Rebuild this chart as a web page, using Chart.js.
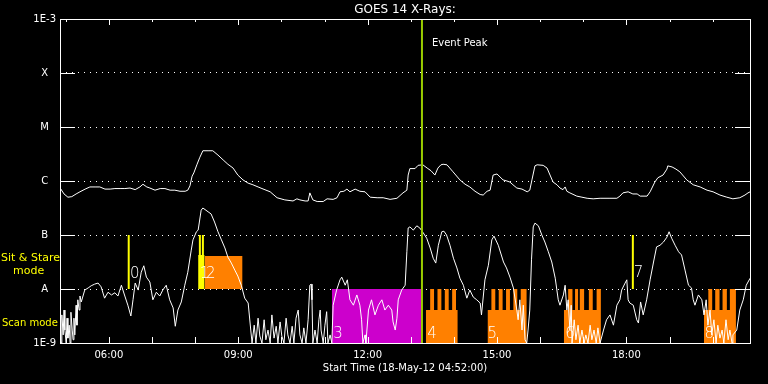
<!DOCTYPE html>
<html>
<head>
<meta charset="utf-8">
<title>GOES 14 X-Rays</title>
<script src="https://cdn.jsdelivr.net/npm/chart.js@4.4.1/dist/chart.umd.min.js"></script>
<style>
    html, body { margin: 0; padding: 0; background: #000; overflow: hidden; }
    canvas { display: block; background: #000; }
</style>
</head>
<body>
<canvas id="goesChart" width="768" height="384"></canvas>
<script>
// time is in decimal hours of 18-May-12 (UT), flux stored as log10(W/m^2)
const startHour = 4 + 52 / 60;
const endHour = startHour + 16;

const labelHours = [6, 9, 12, 15, 18];
const minorHours = [5, 6, 7, 8, 9, 10, 11, 12, 13, 14, 15, 16, 17, 18, 19, 20];

const classValues = [1e-9, 1e-8, 1e-7, 1e-6, 1e-5, 1e-4, 1e-3];
const classLabels = ['1E-9', 'A', 'B', 'C', 'M', 'X', '1E-3'];

// 1-8 A channel
const longChannel = [
    [4.87, -6.13], [4.96, -6.24], [5.05, -6.30], [5.14, -6.29], [5.24, -6.24], [5.33, -6.20],
    [5.45, -6.15], [5.56, -6.11], [5.68, -6.11], [5.79, -6.11], [5.91, -6.15], [6.03, -6.15],
    [6.14, -6.14], [6.26, -6.14], [6.37, -6.14], [6.49, -6.13], [6.61, -6.16], [6.72, -6.11],
    [6.79, -6.06], [6.88, -6.11], [6.95, -6.13], [7.07, -6.17], [7.19, -6.14], [7.30, -6.14],
    [7.42, -6.17], [7.53, -6.17], [7.65, -6.19], [7.77, -6.19], [7.83, -6.17], [7.88, -6.09],
    [7.93, -5.91], [7.97, -5.85], [8.04, -5.70], [8.11, -5.56], [8.18, -5.44], [8.30, -5.44],
    [8.41, -5.44], [8.53, -5.52], [8.65, -5.61], [8.76, -5.69], [8.88, -5.76], [8.99, -5.89],
    [9.11, -5.98], [9.23, -6.04], [9.34, -6.07], [9.46, -6.11], [9.55, -6.14], [9.74, -6.20],
    [9.90, -6.31], [10.08, -6.35], [10.27, -6.37], [10.36, -6.33], [10.43, -6.35], [10.55, -6.37],
    [10.62, -6.37], [10.66, -6.22], [10.73, -6.35], [10.83, -6.38], [10.97, -6.38], [11.06, -6.33],
    [11.20, -6.34], [11.29, -6.31], [11.36, -6.20], [11.45, -6.19], [11.52, -6.15], [11.59, -6.20],
    [11.71, -6.15], [11.82, -6.19], [11.94, -6.20], [12.06, -6.30], [12.22, -6.31], [12.36, -6.31],
    [12.52, -6.34], [12.68, -6.32], [12.82, -6.22], [12.91, -6.17], [12.94, -5.89], [12.98, -5.77],
    [13.10, -5.77], [13.17, -5.71], [13.28, -5.70], [13.38, -5.76], [13.47, -5.81], [13.56, -5.89],
    [13.63, -5.76], [13.70, -5.70], [13.75, -5.69], [13.84, -5.70], [13.98, -5.83], [14.14, -5.98],
    [14.26, -6.06], [14.37, -6.11], [14.49, -6.19], [14.61, -6.25], [14.68, -6.26], [14.77, -6.19],
    [14.84, -6.17], [14.91, -5.89], [15.00, -5.87], [15.14, -5.98], [15.23, -6.00], [15.30, -6.02],
    [15.37, -6.07], [15.46, -6.13], [15.58, -6.15], [15.70, -6.20], [15.76, -6.17], [15.81, -5.98],
    [15.88, -5.72], [15.93, -5.70], [16.07, -5.71], [16.16, -5.76], [16.23, -5.89], [16.30, -6.02],
    [16.39, -6.07], [16.46, -6.13], [16.53, -6.16], [16.58, -6.11], [16.62, -6.19], [16.69, -6.22],
    [16.85, -6.28], [16.97, -6.30], [17.09, -6.32], [17.23, -6.33], [17.39, -6.32], [17.62, -6.32],
    [17.78, -6.32], [17.85, -6.28], [17.92, -6.22], [18.04, -6.20], [18.15, -6.24], [18.25, -6.24],
    [18.32, -6.28], [18.48, -6.28], [18.55, -6.20], [18.66, -6.02], [18.73, -5.94], [18.85, -5.89],
    [18.94, -5.78], [18.96, -5.72], [19.06, -5.74], [19.15, -5.78], [19.24, -5.83], [19.40, -5.98],
    [19.55, -6.07], [19.71, -6.11], [19.87, -6.17], [20.01, -6.20], [20.17, -6.26], [20.33, -6.30],
    [20.47, -6.33], [20.63, -6.31], [20.75, -6.26], [20.82, -6.22], [20.87, -6.20]
];

// 0.5-4 A channel
const shortChannel = [
    [4.87, -8.57], [4.89, -9.00], [4.91, -8.48], [4.94, -8.85], [4.96, -8.39], [4.98, -8.76],
    [5.01, -9.00], [5.03, -8.54], [5.05, -8.91], [5.08, -8.67], [5.10, -9.00], [5.12, -8.43],
    [5.15, -8.76], [5.17, -8.94], [5.19, -8.54], [5.21, -8.85], [5.24, -8.30], [5.26, -8.67],
    [5.28, -8.20], [5.31, -8.39], [5.33, -8.13], [5.36, -8.24], [5.44, -8.02], [5.52, -7.98],
    [5.59, -7.94], [5.67, -7.91], [5.75, -7.89], [5.82, -7.96], [5.90, -8.17], [5.98, -8.06],
    [6.06, -8.11], [6.14, -8.07], [6.21, -8.13], [6.29, -7.93], [6.37, -8.13], [6.44, -8.30],
    [6.51, -8.50], [6.56, -8.20], [6.61, -7.89], [6.68, -8.02], [6.75, -7.69], [6.81, -7.57],
    [6.87, -7.78], [6.95, -7.87], [7.02, -8.20], [7.10, -8.06], [7.18, -8.13], [7.25, -8.02],
    [7.33, -7.93], [7.41, -8.20], [7.49, -8.35], [7.54, -8.69], [7.60, -8.39], [7.68, -8.24],
    [7.76, -7.93], [7.83, -7.69], [7.91, -7.28], [7.95, -7.09], [8.03, -6.94], [8.07, -6.91],
    [8.14, -6.54], [8.18, -6.50], [8.30, -6.57], [8.37, -6.61], [8.45, -6.76], [8.53, -6.94],
    [8.61, -7.09], [8.69, -7.24], [8.76, -7.41], [8.84, -7.52], [8.92, -7.65], [8.99, -7.76],
    [9.07, -7.93], [9.15, -8.17], [9.23, -8.26], [9.29, -8.76], [9.32, -9.00], [9.37, -8.67],
    [9.41, -9.00], [9.46, -8.54], [9.50, -8.87], [9.55, -9.00], [9.60, -8.57], [9.64, -8.94],
    [9.69, -8.76], [9.74, -9.00], [9.78, -8.48], [9.83, -8.91], [9.88, -8.69], [9.92, -9.00],
    [9.97, -8.61], [10.01, -8.87], [10.06, -9.00], [10.11, -8.54], [10.15, -8.85], [10.20, -9.00],
    [10.25, -8.69], [10.29, -9.00], [10.34, -8.54], [10.39, -8.39], [10.43, -8.85], [10.48, -9.00],
    [10.52, -8.72], [10.57, -9.00], [10.62, -8.57], [10.66, -7.93], [10.69, -7.91], [10.71, -8.20],
    [10.73, -9.00], [10.78, -8.76], [10.83, -9.00], [10.87, -8.57], [10.90, -8.39], [10.92, -8.76],
    [10.97, -9.00], [11.01, -8.67], [11.05, -8.42], [11.08, -9.00], [11.13, -8.85], [11.17, -9.00],
    [11.20, -8.30], [11.28, -8.02], [11.36, -7.83], [11.40, -7.78], [11.48, -7.93], [11.53, -7.83],
    [11.59, -8.20], [11.67, -8.30], [11.75, -8.11], [11.82, -8.30], [11.86, -8.57], [11.89, -9.00],
    [11.94, -8.85], [11.96, -9.00], [12.02, -8.39], [12.09, -8.20], [12.17, -8.48], [12.25, -8.30],
    [12.33, -8.20], [12.40, -8.39], [12.48, -8.30], [12.56, -8.39], [12.59, -8.61], [12.64, -8.76],
    [12.68, -8.54], [12.71, -8.20], [12.79, -8.02], [12.87, -7.93], [12.91, -7.31], [12.94, -6.87],
    [12.98, -6.85], [13.06, -6.91], [13.14, -6.83], [13.21, -6.87], [13.29, -6.96], [13.37, -7.06],
    [13.45, -7.24], [13.52, -7.43], [13.58, -7.52], [13.64, -7.19], [13.72, -6.94], [13.77, -6.93],
    [13.83, -7.00], [13.91, -7.19], [13.99, -7.43], [14.07, -7.61], [14.14, -7.80], [14.22, -7.93],
    [14.30, -8.17], [14.37, -8.02], [14.45, -8.15], [14.53, -8.20], [14.61, -8.26], [14.64, -8.48],
    [14.72, -7.83], [14.80, -7.56], [14.88, -7.09], [14.93, -7.02], [15.03, -7.19], [15.15, -7.50],
    [15.22, -7.61], [15.30, -7.78], [15.38, -7.98], [15.46, -8.39], [15.49, -8.57], [15.53, -8.20],
    [15.58, -8.76], [15.61, -8.30], [15.65, -8.94], [15.69, -9.00], [15.72, -8.76], [15.76, -8.39],
    [15.80, -7.46], [15.84, -6.85], [15.88, -6.78], [15.96, -6.83], [16.04, -7.00], [16.11, -7.13],
    [16.19, -7.31], [16.27, -7.50], [16.35, -7.80], [16.42, -8.20], [16.46, -8.30], [16.54, -8.11],
    [16.58, -7.93], [16.62, -8.39], [16.65, -8.20], [16.69, -8.76], [16.72, -8.30], [16.74, -9.00],
    [16.79, -8.57], [16.83, -8.94], [16.88, -8.67], [16.92, -9.00], [16.97, -8.76], [17.02, -9.00],
    [17.06, -8.85], [17.11, -9.00], [17.16, -8.67], [17.20, -8.94], [17.25, -8.76], [17.30, -9.00],
    [17.34, -8.72], [17.39, -9.00], [17.47, -8.76], [17.54, -8.57], [17.62, -8.48], [17.70, -8.67],
    [17.78, -8.30], [17.85, -8.20], [17.89, -8.02], [17.97, -7.89], [18.01, -7.83], [18.04, -8.20],
    [18.08, -8.26], [18.16, -8.30], [18.24, -8.57], [18.28, -8.63], [18.33, -8.24], [18.39, -8.48],
    [18.47, -8.20], [18.55, -7.83], [18.63, -7.50], [18.70, -7.22], [18.78, -7.19], [18.86, -7.13],
    [18.94, -7.04], [18.99, -6.94], [19.05, -7.06], [19.13, -7.19], [19.21, -7.31], [19.28, -7.37],
    [19.36, -7.65], [19.44, -7.93], [19.51, -7.98], [19.55, -8.20], [19.59, -8.30], [19.67, -8.11],
    [19.75, -8.20], [19.80, -8.48], [19.85, -8.20], [19.89, -8.67], [19.94, -8.39], [19.98, -8.85],
    [20.03, -8.57], [20.08, -9.00], [20.12, -8.67], [20.17, -8.91], [20.22, -8.76], [20.26, -9.00],
    [20.31, -8.57], [20.36, -8.94], [20.40, -8.76], [20.45, -9.00], [20.47, -8.85], [20.56, -8.76],
    [20.63, -8.39], [20.71, -8.20], [20.78, -7.93], [20.87, -7.80]
];

const peakTime = 13.26;

// sit & stare pointings (A to B markers) and the short stare block
const stareTimes = [6.46, 8.11, 8.18, 18.15];
const stareBlock = [8.07, 8.22, -7.37];

// scan mode blocks
const scanStart = [8.22, 11.17, 13.35, 14.78, 16.55, 19.80];
const scanEnd = [9.10, 13.24, 14.09, 15.69, 17.41, 20.54];
const scanFloor = [-8, -9, -9, -9, -9, -9];
const scanTop = [-7.39, -8, -8.39, -8.39, -8.39, -8.39];
const scanTeeth = [
    [],
    [],
    [[13.45, 13.54], [13.62, 13.71], [13.79, 13.88], [13.96, 14.05]],
    [[14.87, 14.96], [15.04, 15.13], [15.21, 15.30], [15.38, 15.47], [15.55, 15.69]],
    [[16.65, 16.75], [16.81, 16.88], [16.92, 17.02], [17.13, 17.22], [17.31, 17.41]],
    [[19.90, 19.99], [20.06, 20.16], [20.23, 20.33], [20.40, 20.54]]
];

const eventLabels = ['0', '1', '2', '3', '4', '5', '6', '7', '8'];
const eventLabelTime = [6.49, 8.11, 8.25, 11.20, 13.38, 14.78, 16.58, 18.17, 19.81];
const eventLabelLog = [-7.80, -7.80, -7.80, -8.91, -8.91, -8.91, -8.91, -7.78, -8.91];

const FONT = '"DejaVu Sans", sans-serif';
const ORANGE = '#ff8000';
const MAGENTA = '#cc00cc';
const YELLOW = '#ffff00';
const GREEN = '#99cc00';
const scanColors = [ORANGE, MAGENTA, ORANGE, ORANGE, ORANGE, ORANGE];

Chart.defaults.font.family = FONT;

function toPoints(pairs) {
    return pairs.map(p => ({ x: p[0], y: Math.pow(10, p[1]) }));
}

function vLine(t, lo, hi) {
    return [{ x: t, y: lo }, { x: t, y: hi }];
}

function blockOutline(i) {
    const pts = [[scanStart[i], scanFloor[i]], [scanStart[i], scanTop[i]]];
    scanTeeth[i].forEach(tooth => {
        pts.push([tooth[0], scanTop[i]], [tooth[0], -8], [tooth[1], -8], [tooth[1], scanTop[i]]);
    });
    pts.push([scanEnd[i], scanTop[i]], [scanEnd[i], scanFloor[i]]);
    return pts;
}

const datasets = [];

datasets.push({
    data: vLine(peakTime, 1e-9, 1e-3),
    borderColor: GREEN, borderWidth: 2, pointRadius: 0, order: 0
});

datasets.push({
    data: toPoints(longChannel),
    borderColor: '#ffffff', borderWidth: 1, pointRadius: 0, tension: 0, order: 1
});
datasets.push({
    data: toPoints(shortChannel),
    borderColor: '#ffffff', borderWidth: 1, pointRadius: 0, tension: 0, order: 1
});

stareTimes.forEach(t => {
    datasets.push({
        data: vLine(t, 1e-8, 1e-7),
        borderColor: YELLOW, borderWidth: 2, pointRadius: 0, order: 2
    });
});

datasets.push({
    data: toPoints([[stareBlock[0], -8], [stareBlock[0], stareBlock[2]], [stareBlock[1], stareBlock[2]], [stareBlock[1], -8]]),
    borderColor: 'transparent', borderWidth: 0, backgroundColor: YELLOW,
    fill: { value: 1e-8 }, pointRadius: 0, order: 2
});

scanStart.forEach((s, i) => {
    datasets.push({
        data: toPoints(blockOutline(i)),
        borderColor: 'transparent', borderWidth: 0, backgroundColor: scanColors[i],
        fill: { value: Math.pow(10, scanFloor[i]) }, pointRadius: 0, order: 3
    });
});

const framePlugin = {
    id: 'frame',
    afterDatasetsDraw(chart) {
        const { ctx, chartArea: a, scales: { x, y } } = chart;
        ctx.save();
        ctx.strokeStyle = '#ffffff';
        ctx.lineWidth = 1;
        ctx.strokeRect(a.left + 0.5, a.top + 0.5, a.right - a.left, a.bottom - a.top);

        ctx.beginPath();
        minorHours.forEach(h => {
            const px = Math.round(x.getPixelForValue(h)) + 0.5;
            const len = h % 3 === 0 ? 6 : 3;
            ctx.moveTo(px, a.top);
            ctx.lineTo(px, a.top + len);
            ctx.moveTo(px, a.bottom);
            ctx.lineTo(px, a.bottom - 6);
        });
        classValues.slice(1, -1).forEach(v => {
            const py = Math.round(y.getPixelForValue(v)) + 0.5;
            ctx.moveTo(a.left, py);
            ctx.lineTo(a.left + 15, py);
            ctx.moveTo(a.right - 15, py);
            ctx.lineTo(a.right, py);
        });
        ctx.stroke();

        ctx.fillStyle = '#ffffff';
        ctx.textAlign = 'left';
        ctx.textBaseline = 'alphabetic';
        ctx.font = '200 15px ' + FONT;
        eventLabels.forEach((lab, i) => {
            ctx.fillText(lab, x.getPixelForValue(eventLabelTime[i]), y.getPixelForValue(Math.pow(10, eventLabelLog[i])));
        });

        ctx.font = '10px ' + FONT;
        ctx.fillText('Event Peak', x.getPixelForValue(peakTime) + 10, y.getPixelForValue(Math.pow(10, -3.5)));

        ctx.fillStyle = YELLOW;
        ctx.textBaseline = 'middle';
        ctx.font = '11px ' + FONT;
        ctx.fillText('Sit & Stare', 1, y.getPixelForValue(Math.pow(10, -7.43)));
        ctx.fillText('mode', 13, y.getPixelForValue(Math.pow(10, -7.67)));
        ctx.font = '10px ' + FONT;
        ctx.fillText('Scan mode', 2, y.getPixelForValue(Math.pow(10, -8.63)));
        ctx.restore();
    }
};

const ctx = document.getElementById('goesChart').getContext('2d');
const goesChart = new Chart(ctx, {
    type: 'line',
    data: { datasets: datasets },
    options: {
        responsive: false,
        animation: false,
        layout: { padding: { top: 0, right: 18, bottom: 0, left: 0 } },
        plugins: {
            legend: { display: false },
            tooltip: { enabled: false },
            title: {
                display: true,
                text: 'GOES 14 X-Rays:',
                fullSize: false,
                color: '#ffffff',
                font: { size: 12, weight: 'normal', lineHeight: 1.2 },
                padding: { top: 2.6, bottom: 2 }
            }
        },
        scales: {
            x: {
                type: 'linear',
                min: startHour,
                max: endHour,
                afterBuildTicks: scale => {
                    scale.ticks = labelHours.map(h => ({ value: h }));
                },
                afterFit: scale => { scale.height = 41; },
                ticks: {
                    color: '#ffffff',
                    font: { size: 10 },
                    padding: 6,
                    maxRotation: 0,
                    autoSkip: false,
                    callback: v => String(v).padStart(2, '0') + ':00'
                },
                grid: { display: false, drawTicks: false },
                border: { display: false },
                title: {
                    display: true,
                    text: 'Start Time (18-May-12 04:52:00)',
                    color: '#ffffff',
                    font: { size: 10 },
                    padding: { top: 0, bottom: 10 }
                }
            },
            y: {
                type: 'logarithmic',
                min: 1e-9,
                max: 1e-3,
                afterBuildTicks: scale => {
                    scale.ticks = classValues.map(v => ({ value: v }));
                },
                afterFit: scale => { scale.width = 60; },
                ticks: {
                    color: '#ffffff',
                    font: { size: 10 },
                    padding: 4,
                    crossAlign: 'center',
                    autoSkip: false,
                    callback: (v, i) => classLabels[i]
                },
                grid: {
                    drawTicks: false,
                    lineWidth: 1,
                    color: c => (c.index === 0 || c.index === classValues.length - 1) ? 'transparent' : '#ffffff'
                },
                border: { display: false, dash: [1, 5] }
            }
        }
    },
    plugins: [framePlugin]
});
</script>
</body>
</html>
